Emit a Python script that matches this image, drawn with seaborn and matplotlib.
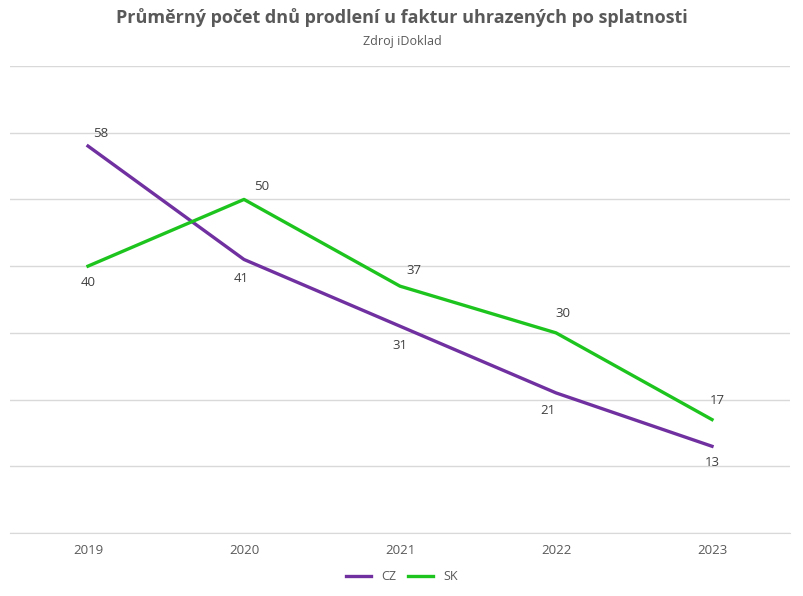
import pandas as pd
import matplotlib.pyplot as plt
import seaborn as sns
from matplotlib.lines import Line2D

years = ['2019', '2020', '2021', '2022', '2023']
cz = [58, 41, 31, 21, 13]
sk = [40, 50, 37, 30, 17]

df = pd.DataFrame({'Rok': years * 2, 'Dny': cz + sk, 'Země': ['CZ'] * 5 + ['SK'] * 5})

plt.rcParams['font.family'] = 'Open Sans'
fig = plt.figure(figsize=(8.04, 5.96), dpi=100)
ax = fig.add_axes([10 / 804, 1 - 533 / 596, 780 / 804, (533 - 66) / 596])

colors = {'CZ': '#7030A0', 'SK': '#1EC41E'}
sns.lineplot(data=df, x='Rok', y='Dny', hue='Země', palette=colors, linewidth=2.4, ax=ax, legend=False)

ax.set_xlim(-0.5, 4.5)
ax.set_ylim(0, 70)
ax.set_yticks(range(0, 71, 10))
ax.grid(axis='y', color='#D9D9D9', linewidth=1)
ax.set_axisbelow(True)
ax.tick_params(axis='y', left=False, labelleft=False)
ax.tick_params(axis='x', length=0, colors='#595959', labelsize=9.5, pad=8)
for s in ['left', 'right', 'top']:
    ax.spines[s].set_visible(False)
ax.spines['bottom'].set_color('#D9D9D9')
ax.set_xlabel('')
ax.set_ylabel('')

# offsets in points (1 pt ~ 1.39 px here)
cz_off = [(9, 9), (-2, -14), (0, -14), (-6, -13), (0, -12)]
sk_off = [(0, -12), (13, 9), (10, 11), (5, 14), (4, 14)]
for i, v in enumerate(cz):
    ax.annotate(str(v), (i, v), xytext=cz_off[i], textcoords='offset points',
                ha='center', va='center', fontsize=9.5, color='#404040')
for i, v in enumerate(sk):
    ax.annotate(str(v), (i, v), xytext=sk_off[i], textcoords='offset points',
                ha='center', va='center', fontsize=9.5, color='#404040')

fig.text(0.5, 1 - 18 / 596, 'Průměrný počet dnů prodlení u faktur uhrazených po splatnosti',
         ha='center', va='center', fontsize=13, fontweight='bold', color='#595959')
fig.text(0.5, 1 - 41 / 596, 'Zdroj iDoklad', ha='center', va='center', fontsize=9, color='#595959')

handles = [Line2D([], [], color=colors[k], linewidth=2.4) for k in ['CZ', 'SK']]
fig.legend(handles, ['CZ', 'SK'], loc='center', bbox_to_anchor=(0.5, 1 - 577 / 596), ncol=2,
           frameon=False, fontsize=9, handlelength=2, columnspacing=1, labelcolor='#595959')

fig.savefig('out.png', dpi=100)
